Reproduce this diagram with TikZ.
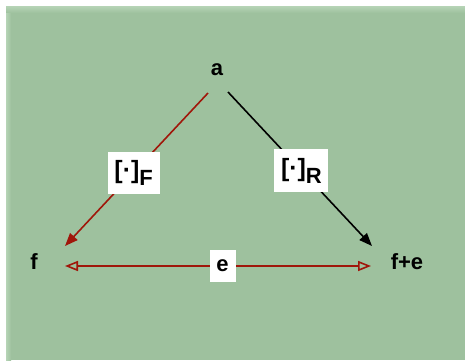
\documentclass[tikz,border=0pt]{standalone}
\usepackage{fontspec}
\setmainfont{Liberation Sans}
\usetikzlibrary{arrows.meta}
\definecolor{bggreen}{RGB}{158,193,158}
\definecolor{lightgreen}{RGB}{182,212,182}
\definecolor{arrowred}{RGB}{160,22,10}
\begin{document}
\begin{tikzpicture}[x=1pt,y=-1pt,
  lbl/.style={font=\bfseries\fontsize{22}{22}\selectfont, inner sep=0pt},
  tag/.style={fill=white, inner sep=0pt, font=\bfseries\fontsize{22}{22}\selectfont},
  redline/.style={draw=arrowred, line width=1.6pt},
  blackline/.style={draw=black, line width=1.6pt}]
\useasboundingbox (0,0) rectangle (465,360);
\fill[white] (0,0) rectangle (465,360);
\fill[bggreen] (6,6) rectangle (465,360);
\shade[top color=lightgreen, bottom color=bggreen] (6,6) rectangle (465,13);
\shade[left color=lightgreen, right color=bggreen] (6,13) rectangle (11,360);
% nodes
\node[lbl] (a) at (217,70) {a};
\node[lbl] (f) at (34,262) {f};
\node[lbl] (fe) at (407,262) {f+e};
% end points
\coordinate (aF) at (208,93);
\coordinate (aR) at (228,92);
\coordinate (fT) at (65,246);
\coordinate (feT) at (372,246);
\coordinate (eL) at (65,266);
\coordinate (eR) at (371,266);
% connectors
\draw[redline, -{Triangle[length=13pt,width=10pt]}] (aF) -- (fT)
  node[pos=0.52, tag, minimum width=52pt, minimum height=42pt] (lf)
  {{\fontsize{25}{25}\selectfont[·]}\raisebox{-7pt}{F}};
\draw[blackline, -{Triangle[length=13pt,width=10pt]}] (aR) -- (feT)
  node[pos=0.51, tag, minimum width=54pt, minimum height=43pt] (lr)
  {{\fontsize{25}{25}\selectfont[·]}\raisebox{-7pt}{R}};
\draw[redline, {Triangle[open,length=13pt,width=10pt]}-{Triangle[open,length=13pt,width=10pt]}] (eL) -- (eR)
  node[pos=0.515, tag, minimum width=26pt, minimum height=32pt] (le) {e};
\end{tikzpicture}
\end{document}
